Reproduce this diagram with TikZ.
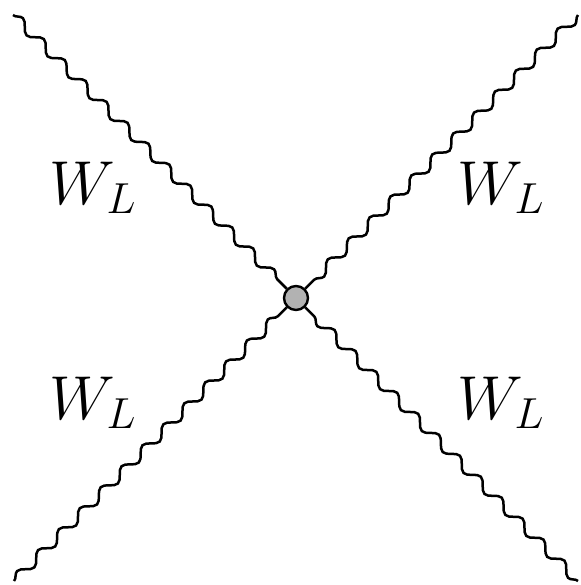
\documentclass[tikz,border=0pt]{standalone}
\usepackage{fix-cm}
\usetikzlibrary{decorations.pathmorphing}

\begin{document}
\begin{tikzpicture}[
  x=0.5pt, y=-0.5pt,
  boson/.style ={decorate, decoration={snake, amplitude=2.4pt, segment length=14.8pt},
                 line width=1.25pt},
  vertex/.style={circle, draw=black, line width=1.2pt, fill=black!30,
                 minimum size=12pt, inner sep=0pt},
  lbl/.style   ={font=\fontsize{31}{33}\selectfont}
]
\useasboundingbox (0,0) rectangle (580,585);
% ---- vertex and external legs ----------------------------------------------
\node[vertex] (v) at (296,298) {};
\coordinate (tl) at (13,15);
\coordinate (tr) at (578,15);
\coordinate (bl) at (14,581);
\coordinate (br) at (578,581);
\draw[boson] (tl) -- (v);
\draw[boson] (tr) -- (v);
\draw[boson] (bl) -- (v);
\draw[boson] (br) -- (v);
% ---- labels ----------------------------------------------------------------
\node[lbl] (ltl) at (93,188) {$W_L$};
\node[lbl] (ltr) at (501,188) {$W_L$};
\node[lbl] (lbl) at (93,403) {$W_L$};
\node[lbl] (lbr) at (501,403) {$W_L$};
\end{tikzpicture}
\end{document}
